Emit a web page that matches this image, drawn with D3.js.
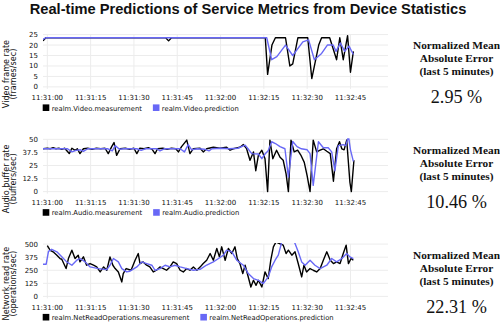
<!DOCTYPE html>
<html><head><meta charset="utf-8">
<script src="https://cdn.jsdelivr.net/npm/d3@7"></script>
<style>
html,body{margin:0;padding:0;background:#fff;}
svg{display:block;}
</style>
</head><body>
<svg id="chart" width="500" height="322"></svg>
<script>
// ---------- DATA (seconds after 11:31:00) ----------
const title = "Real-time Predictions of Service Metrics from Device Statistics";
const xTickLabels = ["11:31:00","11:31:15","11:31:30","11:31:45","11:32:00","11:32:15","11:32:30","11:32:45"];
const xTickSeconds = [0,15,30,45,60,75,90,105];

const videoTicks = [0,5,10,15,20,25];
const audioTicks = [0,12.5,25,37.5,50];
const netTicks = [0,125,250,375,500];

const videoMeasT = [-1.5,-0.5,41,42,43,75.5,76.3,77.8,79,82.5,84,85,86.8,90.2,91.6,94,95,97.8,100.2,101.3,102.5,104,105,106];
const videoMeasV = [22,23.5,23.5,22,23.5,23.5,6,20,23.5,23.5,10,11,23.5,23.5,4,20,23.5,23.5,13,23.5,13,24.5,7,17];
const videoPredT = [-1.5,-0.5,76,77.7,79.5,82.5,85,88.5,90.5,92.5,95,97,99,100,101.5,103,104.5,106];
const videoPredV = [22.7,23.5,23.5,13,14.5,20,15,21.5,22.5,13,16,20,20,17,21,17,19.5,15.5];

const audioMeasT = [-1.5,0,1,2,3,4,5,6,7.6,8.5,9.6,10.4,11.3,12.5,14,15.5,17,18.5,20,21.1,22.3,23.1,24,25.2,27,28.5,30,31,32,33.5,35,36.3,37.3,38.2,40,41.5,43,44.5,45.4,46.5,48.3,49.4,50.5,52.9,54,55.2,57.5,59.8,62.1,63.3,64.4,66.7,67.9,69,70.2,71.4,72.2,73.1,74.3,75.4,76.3,77.1,78.1,79.4,80.6,81.7,82.7,83.5,84.4,85.5,86.7,87.8,89,90,91,92.1,93.3,94.5,95.6,96.8,98,99.1,100.2,101.2,102,102.8,103.7,104.8,105.3,106.2];
const audioMeasV = [41,41.5,41,42,41,41.5,40.5,41.5,36.4,41.5,39.5,41,36.4,41,41.5,40.5,41.5,41,41.5,36.4,43,47,34.7,41,41.5,40.5,41.5,36.4,41.5,41,42,40.5,36.4,41,41.5,40.5,41.5,41,38,43,49.3,36.4,41,41.5,38,41,42.5,41.5,42.5,39.6,41,42.5,45,41.2,30,38,20,34.7,39.6,31.5,0,49.3,31.5,39.6,33,30,17,0,49.3,38,39.6,35,28,15,0,49.3,38,39.6,41,38.6,36.4,10,41,47.7,41,40,49.3,9,0,30];
const audioPredT = [-1.5,7,8.5,10,11.5,12.5,14,21,22.5,23.5,25,26.5,31,32.5,34,38,39,40.5,46,47.5,48.8,50,52,54.5,56,57,60,63,66,68.5,69.5,70.8,73.1,74.3,75.4,76.5,77.7,79,80.6,82.3,83.5,85,86.5,88,90,91,92.1,93.9,95.6,97.3,98.5,99.6,100.8,102.5,103.4,104.3,105,106];
const audioPredV = [41,41,38,39.5,40,38.5,41,41,39,44,40.5,41,41,39.5,41,41,39,41,41,38,45,40,41,40.5,39,41,41.5,41,41.5,44.5,41,36.4,36,31.5,36,39,47.7,46,43,41,14,48,43,41,40,36.4,6,47.7,42,42,38,20,44,45,44,53,40,29];

const netMeasT = [0,1,2,3.3,4.4,5,6.5,7.3,8.5,9.6,10.7,11.3,12.5,13.6,14.8,16,17.1,18.3,19.5,20.6,21.7,22.7,23.5,24.6,25.8,26.3,27.3,29,30.4,31.5,32.1,33.2,34.4,35.5,36.7,37.8,39,40.2,41.3,42.5,43.6,44.8,46,47.1,48.3,49.4,50.6,51.8,52.9,54,55.2,56.4,57.5,58.7,59.6,60.4,61.6,62.7,63.9,65,65.8,66.7,67.7,68.5,69.6,70.5,71.4,72.3,73.1,74.3,75.4,76.5,77.4,78.3,79.2,80.4,81.7,82.7,83.5,84.7,85.8,86.9,88.1,88.9,89.8,91,92.1,93.3,94.5,95.6,96.8,98,99.1,100.2,101.4,102.5,103.5,104.3,105.2,106];
const netMeasV = [485,440,426,394,362,355,266,362,442,362,394,330,378,298,314,298,282,234,282,250,378,298,266,234,138,218,266,250,346,410,314,330,298,282,234,250,282,266,250,282,330,314,250,234,266,250,282,250,280,314,346,410,346,458,378,474,346,458,410,474,362,314,218,298,186,90,154,106,154,90,234,170,346,474,520,505,490,410,442,394,426,314,186,298,234,266,250,234,266,346,426,346,314,330,314,410,490,314,362,346];
const netPredT = [-1.5,-0.4,0.4,1.5,3.3,5,6.7,8.5,10.2,11.3,13.1,14.8,17.7,20.6,21.7,22.9,24.6,25.8,27.5,28.5,31,32.7,34.4,36.2,37.3,39,40.8,42.5,44.2,46,48.3,50.6,52.9,55.2,57.5,59.3,61,62.1,63.9,65.6,67.9,69.6,71.4,73.1,74.8,76.5,77.7,78.9,80,81.2,83,85,85.8,86.9,88.1,89.3,91,92.7,94.5,96.8,98.5,100.2,102,103.7,104.8,106];
const netPredV = [308,308,430,450,426,378,330,298,346,362,330,282,266,256,298,362,330,266,234,240,282,330,314,298,250,266,298,282,298,282,266,250,258,300,330,362,394,442,426,346,298,218,170,154,122,186,282,346,394,520,560,540,506,426,330,298,346,298,266,298,362,330,362,410,378,362];

const panels = [
  {yTitle:["Video frame rate","(frames/sec)"], ticks:videoTicks, measT:videoMeasT, measV:videoMeasV, predT:videoPredT, predV:videoPredV,
   legend:["realm.Video.measurement","realm.Video.prediction"], error:"2.95 %"},
  {yTitle:["Audio buffer rate","(buffers/sec)"], ticks:audioTicks, measT:audioMeasT, measV:audioMeasV, predT:audioPredT, predV:audioPredV,
   legend:["realm.Audio.measurement","realm.Audio.prediction"], error:"10.46 %"},
  {yTitle:["Network read rate","(operations/sec)"], ticks:netTicks, measT:netMeasT, measV:netMeasV, predT:netPredT, predV:netPredV,
   legend:["realm.NetReadOperations.measurement","realm.NetReadOperations.prediction"], error:"22.31 %"}
];
const errorLines = ["Normalized Mean","Absolute Error","(last 5 minutes)"];

// ---------- DRAW ----------
const svg = d3.select("#chart");
const base = new Date(2016,0,1,11,31,0);
const toDate = s => new Date(base.getTime() + s*1000);
const BLUE = "#6868f6";

// title
const t = svg.append("text").attr("x",248).attr("y",13.5).attr("text-anchor","middle")
  .attr("font-family","Liberation Sans, Arial, sans-serif").attr("font-weight","bold")
  .attr("font-size",15).attr("fill","#111").text(title);
const tw = t.node().getComputedTextLength();
t.attr("font-size", 15*437/tw);

const x = d3.scaleTime().domain([toDate(-1.5), toDate(118)]).range([43,388]);

panels.forEach((p,i)=>{
  const top = 34.6 + i*104.75, bottom = top + 52.3;
  const g = svg.append("g");
  const ymax = p.ticks[p.ticks.length-1];
  const y = d3.scaleLinear().domain([0,ymax]).range([bottom, top]);

  // gridlines
  g.append("g").selectAll("line").data(p.ticks).join("line")
    .attr("x1",43).attr("x2",388).attr("y1",d=>y(d)).attr("y2",d=>y(d))
    .attr("stroke","#ececec").attr("stroke-width",1);
  g.append("g").selectAll("line").data(xTickSeconds).join("line")
    .attr("x1",d=>x(toDate(d))).attr("x2",d=>x(toDate(d))).attr("y1",top).attr("y2",bottom+2)
    .attr("stroke","#ececec").attr("stroke-width",1);

  // y tick labels
  g.append("g").selectAll("text").data(p.ticks).join("text")
    .attr("x",38).attr("y",d=>y(d)).attr("dy","0.35em").attr("text-anchor","end")
    .attr("font-family","DejaVu Sans, sans-serif").attr("font-size",7).attr("fill","#111")
    .text(d=>d);
  // x tick labels
  g.append("g").selectAll("text").data(xTickSeconds).join("text")
    .attr("x",d=>x(toDate(d))).attr("y",bottom+13.5).attr("text-anchor","middle")
    .attr("font-family","DejaVu Sans, sans-serif").attr("font-size",7).attr("fill","#111")
    .text((d,j)=>xTickLabels[j]);

  // y title
  const cy = top + 39.5;
  p.yTitle.forEach((s,k)=>{
    g.append("text").attr("transform",`translate(${8.5+k*7.5},${cy}) rotate(-90)`)
      .attr("text-anchor","middle").attr("font-family","DejaVu Sans, sans-serif")
      .attr("font-size",8.1).attr("fill","#111").text(s);
  });

  // clip
  const cid = "clip"+i;
  svg.append("clipPath").attr("id",cid).append("rect")
    .attr("x",43).attr("y",top-1).attr("width",345).attr("height",bottom-top+2);

  const line = d3.line().x(d=>x(toDate(d[0]))).y(d=>y(d[1]));
  const meas = p.measT.map((tt,j)=>[tt,p.measV[j]]);
  const pred = p.predT.map((tt,j)=>[tt,p.predV[j]]);
  const lg = g.append("g").attr("clip-path",`url(#${cid})`);
  lg.append("path").datum(meas).attr("d",line).attr("fill","none")
    .attr("stroke","#000").attr("stroke-width",1.4).attr("stroke-linejoin","round");
  lg.append("path").datum(pred).attr("d",line).attr("fill","none")
    .attr("stroke",BLUE).attr("stroke-width",1.4).attr("stroke-linejoin","round");

  // legend
  let lx = 42.7;
  [["#000",p.legend[0]],[BLUE,p.legend[1]]].forEach(([c,s])=>{
    g.append("rect").attr("x",lx).attr("y",bottom+17.5).attr("width",6.6).attr("height",6.6).attr("fill",c);
    const tx = g.append("text").attr("x",lx+9).attr("y",bottom+23.8)
      .attr("font-family","DejaVu Sans, sans-serif").attr("font-size",6.8).attr("fill","#111").text(s);
    lx = lx + 9 + tx.node().getComputedTextLength() + 11;
  });

  // error text
  errorLines.forEach((s,k)=>{
    g.append("text").attr("x",456.5).attr("y",top+14.5+k*13)
      .attr("text-anchor","middle").attr("font-family","Liberation Serif, Times New Roman, serif")
      .attr("font-weight","bold").attr("font-size",11.3).attr("fill","#111").text(s);
  });
  g.append("text").attr("x",456.5).attr("y",top+68.5)
    .attr("text-anchor","middle").attr("font-family","Liberation Serif, Times New Roman, serif")
    .attr("font-size",18.2).attr("fill","#111").text(p.error);
});
</script>
</body></html>
